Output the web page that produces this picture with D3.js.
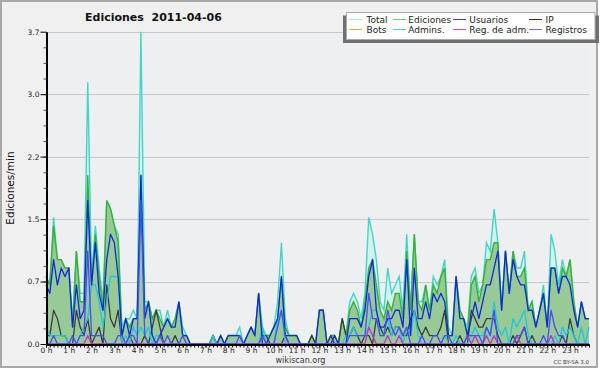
<!DOCTYPE html>
<html><head><meta charset="utf-8">
<script src="https://cdn.jsdelivr.net/npm/d3@7"></script>
<style>
html,body{margin:0;padding:0;background:#fff;}
svg{display:block;font-family:"DejaVu Sans",sans-serif;}
</style></head><body>
<svg id="chart" width="600" height="370"></svg>
<script>
// ---- data (edits per minute, 10-minute buckets) ----
const hourLabels = ["0 h","1 h","2 h","3 h","4 h","5 h","6 h","7 h","8 h","9 h","10 h","11 h",
  "12 h","13 h","14 h","15 h","16 h","17 h","18 h","19 h","20 h","21 h","22 h","23 h"];
const yTickValues = [0, 0.74, 1.48, 2.22, 2.96, 3.7];
const seriesNames = ["Total","Ediciones","Usuarios","IP","Bots","Admins.","Reg. de adm.","Registros"];

const total = [
 .8,.7,1.5,1.0,1.0,.9,.9,.3,1.1,.6,.6,3.1,
 .8,1.4,.9,.5,1.7,1.6,1.4,1.3,.2,.3,.3,.4,
 .3,3.7,.5,.5,.3,.4,.4,.2,.4,.2,.3,.5,
 .2,.1,0,0,0,0,0,0,.1,0,.1,0,
 .1,.1,.1,.2,0,.1,.2,.1,.6,.2,.1,.1,
 .2,.5,1.2,.3,.1,.1,.1,0,0,0,.1,0,
 .4,.4,0,.1,.1,0,.3,.1,.5,.6,.5,.3,
 .6,1.5,1.3,1.0,.5,.4,.9,.6,.7,.8,.4,1.3,
 .4,1.3,.5,.5,.7,.4,.8,.7,.8,1.0,.2,.1,
 .8,.4,.3,.2,.8,.9,.6,.7,1.2,1.1,1.6,1.2,
 .4,1.1,.6,1.1,.9,.9,1.1,.4,.5,.2,.4,.7,
 .2,1.3,1.1,.7,1.0,.8,1.0,.5,.2,.5,.3,.3];
const ediciones = [
 .8,.7,1.4,1.0,1.0,.9,.9,.2,1.1,.5,.5,2.0,
 .7,1.3,.8,.4,1.7,1.6,1.4,1.2,.1,.3,.2,.3,
 .3,2.0,.4,.5,.3,.4,.3,.2,.3,.2,.3,.5,
 .1,.1,0,0,0,0,0,0,.1,0,.1,0,
 .1,.1,.1,.1,0,.1,.2,.1,.6,.1,.1,.1,
 .2,.3,.8,.2,.1,.1,.1,0,0,0,.1,0,
 .4,.4,0,.1,.1,0,.3,.1,.4,.5,.4,.2,
 .5,.9,1.0,.7,.4,.3,.5,.4,.6,.6,.3,1.1,
 .4,1.3,.5,.4,.7,.4,.7,.6,.8,.9,.1,.1,
 .8,.4,.3,.1,.7,.8,.5,.7,1.0,1.0,1.2,1.2,
 .4,1.1,.6,1.1,.8,.8,.9,.4,.5,.2,.4,.6,
 .2,.9,.9,.6,.9,.8,1.0,.5,.2,.5,.3,.3];
const usuarios = [
 .7,.6,1.0,.7,.9,.8,.9,.2,.7,.3,.4,1.7,
 .7,1.2,.6,.4,1.0,1.3,1.2,.8,.1,.3,.1,.3,
 .3,2.0,.3,.5,.1,0,.1,.2,.3,.2,.2,.5,
 .1,.1,0,0,0,0,0,0,0,0,.1,0,
 .1,.1,.1,.1,0,.1,.2,.1,.6,0,0,.1,
 .2,.3,.8,.1,.1,.1,.1,0,0,0,0,0,
 .4,.4,0,0,.1,0,0,0,.3,.3,.3,.2,
 .4,.8,1.0,.4,.2,.2,.3,.3,.4,.4,.2,1.0,
 .1,.9,.3,.3,.5,.3,.6,.5,.6,.5,.1,.1,
 .8,.3,.3,.1,.3,.5,.3,.5,.7,.7,.9,1.1,
 .4,1.1,.6,1.0,.8,.7,.7,.4,.4,.2,.4,.6,
 .2,.9,.9,.6,.8,.8,.7,.4,.2,.5,.3,.3];
const ip = [
 .1,.1,.4,.3,.1,.1,0,0,.4,.2,.1,.3,
 0,.1,.2,0,.7,.3,.2,.4,0,0,.1,0,
 0,0,.1,0,.2,.4,.2,0,0,0,.1,0,
 0,0,0,0,0,0,0,0,.1,0,0,0,
 0,0,0,0,0,0,0,0,0,.1,.1,0,
 0,0,0,.1,0,0,0,0,0,0,.1,0,
 0,0,0,.1,0,0,.3,.1,.1,.2,.1,0,
 .1,.1,0,.3,.2,.1,.2,.1,.2,.2,.1,.1,
 .3,.4,.2,.1,.2,.1,.1,.1,.2,.4,0,0,
 0,.1,0,0,.4,.3,.2,.2,.3,.3,.3,.1,
 0,0,0,.1,0,.1,.2,0,.1,0,0,0,
 0,0,0,0,.1,0,.3,.1,0,0,0,0];
const bots = new Array(144).fill(0);
const admins = [
 .2,.1,.1,.1,.1,.1,0,0,0,.1,.2,.3,
 .7,.7,.5,.2,.5,.8,.8,.8,0,.1,0,.2,
 .1,.2,.1,.2,0,.1,.1,0,0,0,0,0,
 0,0,0,0,0,0,0,0,.1,0,0,0,
 0,0,0,0,0,0,0,0,0,.2,0,0,
 0,.3,.4,0,0,0,0,0,0,0,0,0,
 0,0,0,0,0,0,0,.1,.1,.2,.1,.1,
 .1,.2,.4,.4,.1,.1,.3,.1,.2,.2,0,.2,
 .1,.4,.1,0,0,0,0,0,0,.1,0,0,
 .1,0,0,0,.1,.2,.1,.1,.2,.1,.5,.2,
 .1,.2,0,.3,.2,.3,.4,.1,0,0,0,0,
 0,0,.1,0,.2,.1,.2,.1,0,.2,0,.2];
const regAdm = [
 0,0,0,0,0,0,0,0,0,0,0,.1,
 0,0,0,0,0,0,0,0,0,0,0,0,
 0,0,0,0,0,0,0,0,0,0,0,0,
 0,0,0,0,0,0,0,0,0,0,0,0,
 0,0,0,0,0,0,0,0,0,0,0,0,
 0,0,0,0,0,0,0,0,0,0,0,0,
 0,0,0,0,0,0,0,0,0,0,0,0,
 0,.2,.1,0,0,0,.1,0,0,.1,0,0,
 0,0,0,0,0,0,0,0,0,0,0,0,
 0,0,0,.1,0,.1,0,0,.1,0,.1,0,
 0,0,0,0,.1,0,0,0,0,0,0,0,
 0,.1,0,0,0,0,0,0,0,0,0,0];
const registros = [
 0,0,.1,0,0,0,0,.1,0,.1,.1,1.1,
 .1,.1,.1,.1,0,0,0,.1,.1,0,.1,.1,
 0,1.7,.1,0,0,0,.1,0,.1,0,0,0,
 .1,0,0,0,0,0,0,0,0,0,0,0,
 0,0,0,.1,0,0,0,0,0,.1,0,0,
 0,.2,.4,.1,0,0,0,0,0,0,0,0,
 0,0,0,0,0,0,0,0,.1,.1,.1,.1,
 .1,.6,.3,.3,.1,.1,.4,.2,.1,.2,.1,.2,
 0,0,0,.1,0,0,.1,.1,0,.1,.1,0,
 0,0,0,.1,.1,.1,.1,0,.2,.1,.4,0,
 0,0,0,0,.1,.1,.2,0,0,0,0,.1,
 0,.4,.2,.1,.1,0,0,0,0,0,0,0];

// ---- drawing ----
const svg = d3.select("#chart");
const x = d3.scaleLinear().domain([0, 143]).range([46, 589]);
const y = d3.scaleLinear().domain([0, 3.7]).range([344, 31.7]);

svg.append("rect").attr("x",1).attr("y",1).attr("width",596).attr("height",366)
  .attr("fill","#f0f0f0").attr("stroke","#a8a8a8").attr("stroke-width",2);
svg.append("rect").attr("x",x(0)).attr("y",y(3.7)).attr("width",x(143)-x(0)).attr("height",y(0)-y(3.7))
  .attr("fill","#eeeff1");

// grid
svg.append("g").selectAll("line").data(yTickValues.slice(1)).join("line")
  .attr("x1",x(0)).attr("x2",x(143)).attr("y1",d=>Math.round(y(d))+0.5).attr("y2",d=>Math.round(y(d))+0.5)
  .attr("stroke","#c8c8c8").attr("stroke-width",1);

const area = d3.area().x((d,i)=>x(i)).y0(y(0)).y1(d=>y(d));
const line = d3.line().x((d,i)=>x(i)).y(d=>y(d));

svg.append("path").attr("d",area(total)).attr("fill","#d4f2ed");
svg.append("path").attr("d",line(total)).attr("fill","none").attr("stroke","#42d6c8").attr("stroke-width",1.4);
svg.append("path").attr("d",area(ediciones)).attr("fill","#98ca98");
svg.append("path").attr("d",line(ediciones)).attr("fill","none").attr("stroke","#36b236").attr("stroke-width",1.4);

const lineSeries = [
  [bots, "#f0a030"],
  [ip, "#3c3c3c"],
  [admins, "#22c6dc"],
  [usuarios, "#1028dc"],
  [regAdm, "#bb33dd"],
  [registros, "#4c4cf2"]
];
lineSeries.forEach(([data, col]) => {
  svg.append("path").attr("d", line(data)).attr("fill","none").attr("stroke",col)
    .attr("stroke-width",1.3).attr("stroke-linejoin","round");
});

// axes
const xMinor = d3.axisBottom(x).tickValues(d3.range(0,144)).tickSize(3).tickSizeOuter(0).tickFormat("");
const gxm = svg.append("g").attr("transform","translate(0,344.5)").call(xMinor);
gxm.select(".domain").attr("stroke","#000").attr("stroke-width",2);
gxm.selectAll(".tick line").attr("stroke","#000");

const xMajor = d3.axisBottom(x).tickValues(d3.range(0,144,6)).tickSize(3).tickPadding(0)
  .tickFormat(d => hourLabels[d/6]);
const gx = svg.append("g").attr("transform","translate(0,344.5)").call(xMajor);
gx.select(".domain").remove();
gx.selectAll(".tick line").attr("stroke","#000");
gx.selectAll("text").attr("font-size",7.5).attr("font-family","DejaVu Sans").attr("fill","#222");

const yMinor = d3.axisLeft(y).tickValues(d3.range(0,20).map(k=>k*0.185)).tickSize(3).tickSizeOuter(0).tickFormat("");
const gym = svg.append("g").attr("transform","translate(46.5,0)").call(yMinor);
gym.select(".domain").attr("stroke","#000").attr("stroke-width",2);
gym.selectAll(".tick line").attr("stroke","#555");

const yMajor = d3.axisLeft(y).tickValues(yTickValues).tickSize(6).tickPadding(1).tickFormat(d3.format(".1f"));
const gy = svg.append("g").attr("transform","translate(46.5,0)").call(yMajor);
gy.select(".domain").remove();
gy.selectAll(".tick line").attr("stroke","#000");
gy.selectAll("text").attr("font-size",7.5).attr("font-family","DejaVu Sans").attr("fill","#222");

// titles
svg.append("text").attr("x",85).attr("y",21).attr("font-size",11).attr("font-weight","bold")
  .attr("fill","#111").style("white-space","pre").text("Ediciones  2011-04-06");
svg.append("text").attr("transform","translate(14,188) rotate(-90)").attr("text-anchor","middle")
  .attr("font-size",10.5).attr("fill","#111").text("Ediciones/min");
svg.append("text").attr("x",300.5).attr("y",363).attr("text-anchor","middle").attr("font-size",8)
  .attr("fill","#333").text("wikiscan.org");
svg.append("text").attr("x",589).attr("y",364).attr("text-anchor","end").attr("font-size",5.5)
  .attr("fill","#333").text("CC BY-SA 3.0");

// legend
const legendColors = ["#aee8e2","#66cc66","#3a3ad0","#333333","#f0a030","#44ccdd","#cc44dd","#7070ee"];
const colX = [349, 393, 453, 529];
const textX = [366.5, 408.3, 469.3, 545.5];
svg.append("rect").attr("x",343).attr("y",15.5).attr("width",256).attr("height",27.5).attr("fill","#707070");
svg.append("rect").attr("x",346.5).attr("y",12.5).attr("width",248.5).attr("height",27)
  .attr("fill","#fff").attr("stroke","#aaa").attr("stroke-width",1);
const lg = svg.append("g");
seriesNames.forEach((name, k) => {
  const col = k % 4, row = Math.floor(k / 4);
  const ly = 19.5 + row * 10;
  lg.append("line").attr("x1",colX[col]).attr("x2",colX[col]+13).attr("y1",ly).attr("y2",ly)
    .attr("stroke",legendColors[k]).attr("stroke-width",1);
  lg.append("text").attr("x",textX[col]).attr("y",22.7 + row*10).attr("font-size",9)
    .attr("fill","#222").text(name);
});
</script>
</body></html>
